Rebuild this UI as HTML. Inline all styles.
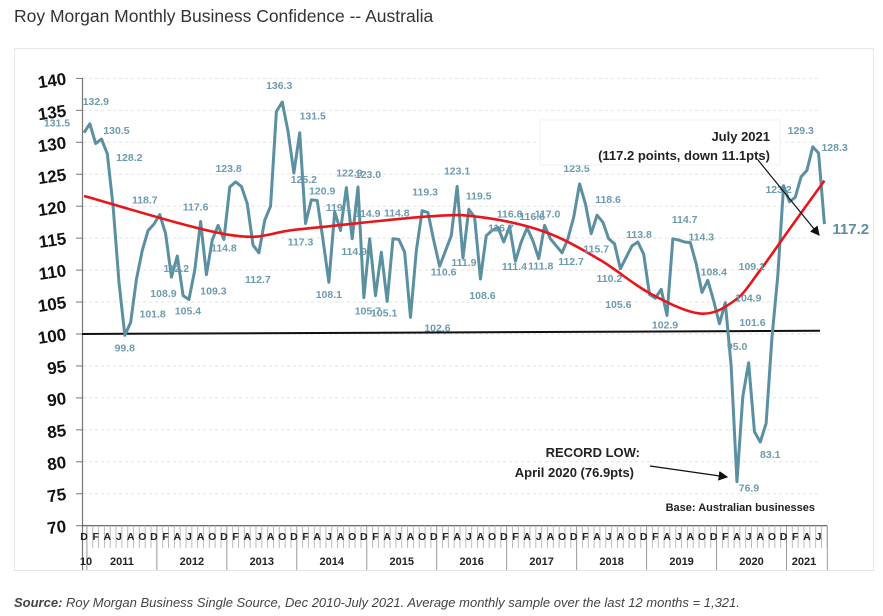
<!DOCTYPE html>
<html><head><meta charset="utf-8"><style>
body{margin:0;background:#fff;width:883px;height:616px;overflow:hidden;font-family:"Liberation Sans",sans-serif}
#title{position:absolute;left:14px;top:6px;font-size:17.5px;color:#333}
#frame{position:absolute;left:14px;top:48px;width:860px;height:523px;border:1px solid #e6e6e6;box-sizing:border-box}
#src{position:absolute;left:14px;top:595px;font-size:13px;font-style:italic;color:#444}
svg{position:absolute;left:0;top:0}
</style></head><body>
<div id="title">Roy Morgan Monthly Business Confidence -- Australia</div>
<div id="frame"></div>
<svg id="chart" width="883" height="616"></svg>
<div id="src"><b>Source:</b> Roy Morgan Business Single Source, Dec 2010-July 2021. Average monthly sample over the last 12 months = 1,321.</div>
<script>
const values=[131.5,132.9,129.8,130.5,128.2,119.9,108.1,99.8,101.8,108.6,113.1,116.2,117.2,118.7,115.7,108.9,112.2,106,105.4,110,117.6,109.3,114.7,117,114.8,123,123.8,123.1,120.4,113.9,112.7,117.8,120,134.8,136.3,131.7,125.2,131.5,117.3,121,120.9,114.7,108.1,119.1,116.2,122.9,114.9,123.0,105.7,114.9,106,112.8,105.1,114.9,114.8,112.8,102.6,113,119.3,119,114.6,110.6,113,115.4,123.1,111.9,119.5,118.3,108.6,115.4,116.2,116.7,114.4,116.8,111.4,114.4,116.6,114.6,111.8,117.0,114.9,113.8,112.7,114.9,118.3,123.5,120.4,115.7,118.6,117.5,114.9,114.1,110.2,112,113.8,114.4,112.5,106.2,105.6,107,102.9,114.9,114.7,114.4,114.3,111,106.5,108.4,105.2,101.6,104.9,95.0,76.9,90.2,95.5,84.7,83.1,86,99.4,109.1,123.2,120.7,121.4,124.6,125.6,129.3,128.3,117.2];
const trendIdx=[0,25,37,59,68,79,88.5,97,105.7,111.7,116,121,127];
const trendVal=[121.6,115.5,116.4,118.4,118.3,116,111.6,106.4,103.2,105.3,110,116.4,124];
const yTicks=[70,75,80,85,90,95,100,105,110,115,120,125,130,135,140];
const years=['2011','2012','2013','2014','2015','2016','2017','2018','2019','2020','2021'];
const monthLetters=['D','F','A','J','A','O'];
// labels: [month index, dx, dy] offsets of printed value from the point
const labels=[[0,-27,-10],[1,6,-23],[3,15,-9],[4,22,3],[7,0,12],[8,22,-9],[13,-15,-15],[15,-8,16],[16,-1,12],[18,-1,11],[20,-5,-15],[21,7,16],[26,-7,-14],[24,0,8],[30,-1,26],[34,-3,-17],[36,10,6],[37,13,-17],[38,-5,18],[40,5,-10],[43,4,-5],[42,0,12],[45,3,-15],[46,2,12],[47,10,-13],[49,-2,-26],[54,-2,-27],[48,4,13],[52,-3,11],[58,3,-19],[56,27,10],[61,4,5],[65,1,4],[64,0,-16],[66,10,-14],[68,2,16],[71,3,0],[73,0,-13],[74,-1,5],[76,5,-12],[78,2,7],[79,3,-12],[82,9,8],[85,-3,-16],[88,11,-16],[87,5,15],[94,7,-12],[92,-11,9],[102,6,-21],[104,11,-6],[98,-37,6],[100,-2,9],[107,6,-9],[110,23,-5],[109,33,-2],[111,6,-20],[119,-26,-10],[120,-5,3],[125,-12,-17],[126,16,-6],[116,10,12],[112,12,6]];

const svg=document.getElementById('chart');
const NS='http://www.w3.org/2000/svg';
const X=i=>84+i*5.83;
const Y=v=>334-(v-100)*6.39;
function mk(tag,at,parent){const e=document.createElementNS(NS,tag);for(const k in at)e.setAttribute(k,at[k]);(parent||svg).appendChild(e);return e;}

yTicks.forEach(t=>{
  if(t>70){const g=mk('line',{x1:83,x2:820,y1:Y(t),y2:Y(t),stroke:'#e2e2e2','stroke-dasharray':'3,3','stroke-width':1});
  
  }
  const tk=mk('line',{x1:76,x2:83,y1:Y(t),y2:Y(t),stroke:'#777','stroke-width':1});
  
  
  const tx=mk('text',{x:66,y:Y(t)+6,'text-anchor':'end','font-size':17,'font-weight':'bold',fill:'#111',transform:`rotate(-8 66 ${Y(t)})`});
  
  
  tx.textContent=t;
});
const ya=mk('line',{x1:82.5,x2:82.5,y1:Y(140),y2:570,stroke:'#777','stroke-width':1.2});


const xa=mk('line',{x1:82,x2:827,y1:Y(70),y2:Y(70),stroke:'#555','stroke-width':1.2});



for(let i=0;i<values.length;i++){
  const isYear=(i%12===0);
  const l=mk('line',{x1:X(i)+2.9,x2:X(i)+2.9,y1:Y(70),y2:isYear?570:548,stroke:isYear?'#999':'#bbb','stroke-width':1});
  
  
  if(i%2===0){
    const t=mk('text',{x:X(i),y:540,'text-anchor':'middle','font-size':10.5,'font-weight':'bold',fill:'#222'});
    
    
    t.textContent=monthLetters[(i/2)%6];
  }
}
const l10=mk('text',{x:X(0)+2,y:565,'text-anchor':'middle','font-size':11,'font-weight':'bold',fill:'#222'});


l10.textContent='10';
years.forEach((yr,k)=>{
  const c=k<10?X(12*k+6.5):X(123.5);
  const t=mk('text',{x:c,y:565,'text-anchor':'middle','font-size':11,'font-weight':'bold',fill:'#222'});
  
  
  t.textContent=yr;
});
const endl=mk('line',{x1:X(127)+2.9,x2:X(127)+2.9,y1:Y(70),y2:570,stroke:'#999'});



const ref=mk('line',{x1:82,x2:820,y1:Y(100),y2:Y(100.5),stroke:'#111','stroke-width':2});



const p=mk('polyline',{points:values.map((v,i)=>X(i)+','+Y(v)).join(' '),fill:'none',stroke:'#5b8fa2','stroke-width':3,'stroke-linejoin':'round'});



const tp=trendIdx.map((t,k)=>[X(t),Y(trendVal[k])]);
let d='M'+tp[0][0]+','+tp[0][1];
for(let k=0;k<tp.length-1;k++){
  const p0=tp[Math.max(0,k-1)],p1=tp[k],p2=tp[k+1],p3=tp[Math.min(tp.length-1,k+2)];
  d+=` C${p1[0]+(p2[0]-p0[0])/6},${p1[1]+(p2[1]-p0[1])/6} ${p2[0]-(p3[0]-p1[0])/6},${p2[1]-(p3[1]-p1[1])/6} ${p2[0]},${p2[1]}`;
}
const tr=mk('path',{d:d,fill:'none',stroke:'#e8151b','stroke-width':2.6});



labels.forEach(([i,dx,dy])=>{
  const t=mk('text',{x:X(i)+dx,y:Y(values[i])+dy+4,'text-anchor':'middle','font-size':10.5,'font-weight':'bold',fill:'#6c9bb0'});
  
  
  t.textContent=values[i].toFixed(1);
});
const big=mk('text',{x:X(127)+8,y:Y(values[127])+10,'font-size':15,'font-weight':'bold',fill:'#5b8fa2'});


big.textContent=values[127].toFixed(1);

function txt(x,y,s,size,anchor,name){const t=mk('text',{x:x,y:y,'font-size':size,'font-weight':'bold',fill:'#222','text-anchor':anchor});t.textContent=s;return t;}
const box1=mk('rect',{x:540,y:120,width:240,height:45,fill:'#fff',stroke:'#eef3f6'});


txt(770,141,'July 2021',13,'end','annotation-july-title');
txt(770,160,'(117.2 points, down 11.1pts)',13,'end','annotation-july-detail');
txt(640,457,'RECORD LOW:',13,'end','annotation-record-title');
txt(634,477,'April 2020 (76.9pts)',13,'end','annotation-record-detail');
txt(815,511,'Base: Australian businesses',11,'end','base-note');
mk('defs',{}).innerHTML='<marker id="ah" markerWidth="8" markerHeight="8" refX="7" refY="4" orient="auto"><path d="M0,0 L8,4 L0,8 z" fill="#111"/></marker>';
const a1=mk('line',{x1:758,y1:160,x2:819,y2:235,stroke:'#111','stroke-width':1.2,'marker-end':'url(#ah)'});


const a2=mk('line',{x1:650,y1:466,x2:727,y2:477,stroke:'#111','stroke-width':1.2,'marker-end':'url(#ah)'});


</script>
</body></html>
